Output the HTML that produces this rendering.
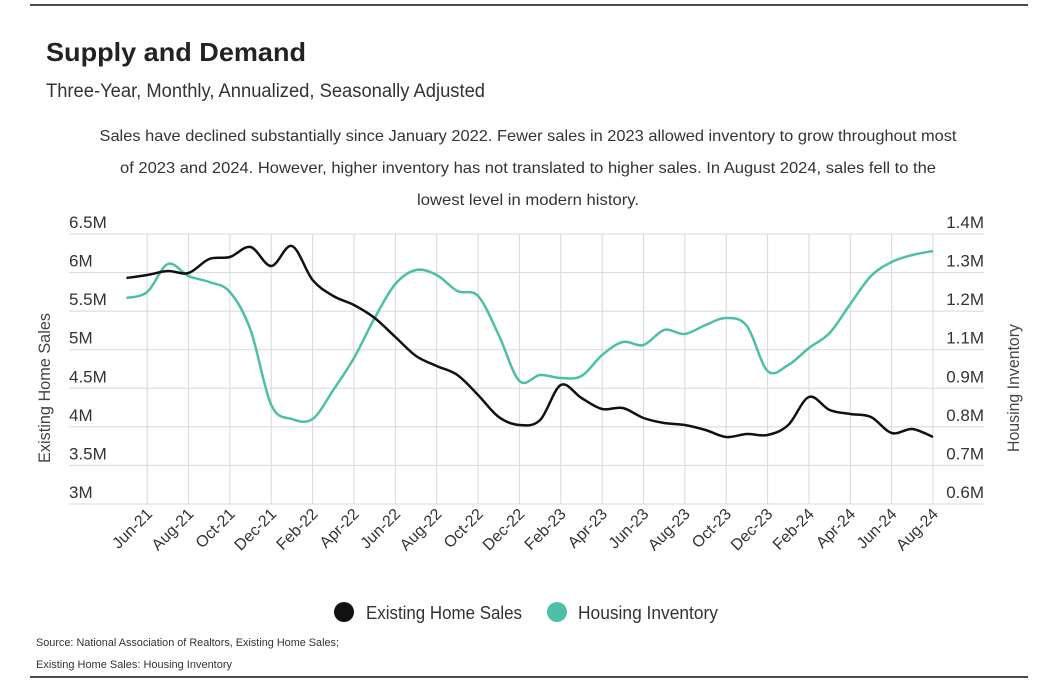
<!DOCTYPE html>
<html><head><meta charset="utf-8"><style>
body{margin:0;background:#fff;}
svg{display:block;font-family:"Liberation Sans",sans-serif;}
</style></head><body>
<svg id="s" width="1050" height="683" viewBox="0 0 1050 683" xmlns="http://www.w3.org/2000/svg">
<line x1="30" y1="5" x2="1028" y2="5" stroke="#111" stroke-width="1.5"/>
<line x1="30" y1="677" x2="1028" y2="677" stroke="#111" stroke-width="1.5"/>
<text x="46" y="61" font-size="26" font-weight="bold" fill="#222" textLength="260" lengthAdjust="spacingAndGlyphs">Supply and Demand</text>
<text x="46" y="97" font-size="19" fill="#333" textLength="439" lengthAdjust="spacingAndGlyphs">Three-Year, Monthly, Annualized, Seasonally Adjusted</text>
<g font-size="16" fill="#333" text-anchor="middle">
<text x="528" y="141" textLength="857" lengthAdjust="spacingAndGlyphs">Sales have declined substantially since January 2022. Fewer sales in 2023 allowed inventory to grow throughout most</text>
<text x="528" y="173" textLength="816" lengthAdjust="spacingAndGlyphs">of 2023 and 2024. However, higher inventory has not translated to higher sales. In August 2024, sales fell to the</text>
<text x="528" y="205" textLength="222" lengthAdjust="spacingAndGlyphs">lowest level in modern history.</text>
</g>
<g id="grid" stroke="#d8d8d8" stroke-width="1"></g>
<g id="labels" font-size="17" fill="#333"></g>
<text transform="translate(50,388) rotate(-90)" font-size="17" fill="#444" text-anchor="middle" textLength="150" lengthAdjust="spacingAndGlyphs">Existing Home Sales</text>
<text transform="translate(1019,388) rotate(-90)" font-size="17" fill="#444" text-anchor="middle" textLength="128" lengthAdjust="spacingAndGlyphs">Housing Inventory</text>
<path id="teal" fill="none" stroke="#4dbfa8" stroke-width="2.5"/>
<path id="blk" fill="none" stroke="#111" stroke-width="2.5"/>
<circle cx="344" cy="612" r="10" fill="#111"/>
<text x="366" y="619" font-size="18" fill="#333" textLength="156" lengthAdjust="spacingAndGlyphs">Existing Home Sales</text>
<circle cx="557" cy="612" r="10" fill="#4dbfa8"/>
<text x="578" y="619" font-size="18" fill="#333" textLength="140" lengthAdjust="spacingAndGlyphs">Housing Inventory</text>
<text x="36" y="646" font-size="11" fill="#333" textLength="303" lengthAdjust="spacingAndGlyphs">Source:  National Association of Realtors, Existing Home Sales;</text>
<text x="36" y="668" font-size="11" fill="#333" textLength="196" lengthAdjust="spacingAndGlyphs">Existing Home Sales: Housing Inventory</text>
</svg>
<script>
var NS="http://www.w3.org/2000/svg";
function el(p,t,a,txt){var e=document.createElementNS(NS,t);for(var k in a)e.setAttribute(k,a[k]);if(txt)e.textContent=txt;document.getElementById(p).appendChild(e);return e;}
var L=["6.5M","6M","5.5M","5M","4.5M","4M","3.5M","3M"],R=["1.4M","1.3M","1.2M","1.1M","0.9M","0.8M","0.7M","0.6M"];
for(var i=0;i<8;i++){var y=234+i*38.57;el("grid","line",{x1:69,x2:984,y1:y,y2:y});
el("labels","text",{x:69,y:y-6},L[i]);el("labels","text",{x:984,y:y-6,"text-anchor":"end"},R[i]);}
function X(m){return 126.5+m*20.68;}
var ms=["Jun-21","Aug-21","Oct-21","Dec-21","Feb-22","Apr-22","Jun-22","Aug-22","Oct-22","Dec-22","Feb-23","Apr-23","Jun-23","Aug-23","Oct-23","Dec-23","Feb-24","Apr-24","Jun-24","Aug-24"];
for(var j=0;j<ms.length;j++){var x=X(1+2*j);el("grid","line",{x1:x,x2:x,y1:234,y2:504});
el("labels","text",{"text-anchor":"end",transform:"translate("+(x+6)+",515) rotate(-45)","font-size":"16"},ms[j]);}
var B=[278,275,271,273,259,257,247,266,246,280,296,305,318,337,356,366,375,395,417,425,420,385,398,409,408,418,423,425,430,437,434,435,425,397,410,414,417,433,429,437];
var T=[298,292,264,276,282,292,330,405,419,419,390,358,318,284,270,275,291,296,335,381,375,378,376,355,342,345,330,334,325,318,326,371,365,348,333,304,276,262,255,251];
function path(a){var p=a.map(function(v,i){return[X(i),v];});var d="M"+p[0][0]+","+p[0][1];
for(var i=0;i<p.length-1;i++){var p0=p[i-1]||p[i],p1=p[i],p2=p[i+1],p3=p[i+2]||p2;
d+=" C"+(p1[0]+(p2[0]-p0[0])/6)+","+(p1[1]+(p2[1]-p0[1])/6)+" "+(p2[0]-(p3[0]-p1[0])/6)+","+(p2[1]-(p3[1]-p1[1])/6)+" "+p2[0]+","+p2[1];}return d;}
document.getElementById("blk").setAttribute("d",path(B));
document.getElementById("teal").setAttribute("d",path(T));
</script>
</body></html>
